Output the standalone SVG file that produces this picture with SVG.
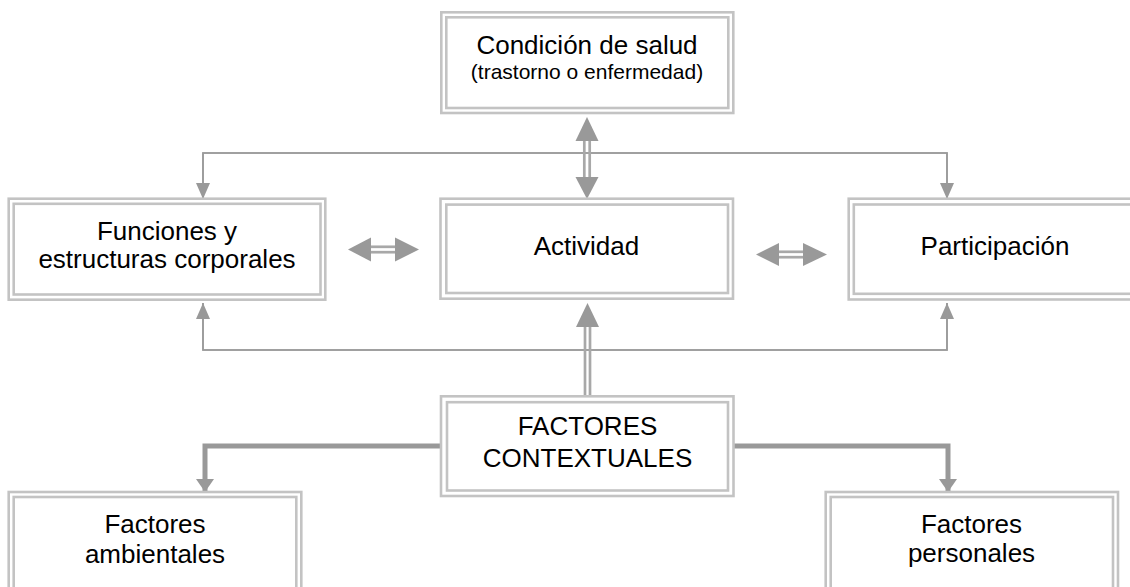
<svg xmlns="http://www.w3.org/2000/svg" width="1130" height="587" viewBox="0 0 1130 587">
<style>
.bo{fill:#fff;stroke:#c3c3c3;stroke-width:2.6}
.bi{fill:none;stroke:#c3c3c3;stroke-width:2.6}
.t{font-family:"Liberation Sans",Arial,sans-serif;font-size:26px;fill:#000;text-anchor:middle}
.s{font-size:21px}
.thin{fill:none;stroke:#9a9a9a;stroke-width:1.6}
.thick{fill:none;stroke:#999;stroke-width:5}
.hd{fill:#999}
.sh{stroke:#a8a8a8;stroke-width:2.7}
</style>
<defs>
<marker id="ah" viewBox="0 0 16 14" refX="16" refY="7" markerWidth="16" markerHeight="14" markerUnits="userSpaceOnUse" orient="auto"><path d="M0,0 L16,7 L0,14 z" fill="#999"/></marker>
<marker id="ahb" viewBox="0 0 13 18" refX="13" refY="9" markerWidth="13" markerHeight="18" markerUnits="userSpaceOnUse" orient="auto"><path d="M0,0 L13,9 L0,18 z" fill="#999"/></marker>
</defs>
<rect width="1130" height="587" fill="#fff"/>
<g id="connectors">
<path class="thin" d="M203,199 V153 H947 V199" marker-end="url(#ah)"/>
<path class="thin" d="M947,199 V153 H203 V199" marker-end="url(#ah)"/>
<path class="thin" d="M203,303 V350 H947 V303" marker-end="url(#ah)"/>
<path class="thin" d="M947,303 V350 H203 V303" marker-end="url(#ah)"/>
<path class="thick" d="M441,446 H205 V492" marker-end="url(#ahb)"/>
<path class="thick" d="M733,446 H948 V492" marker-end="url(#ahb)"/>
<g id="arrow-salud-actividad">
<line class="sh" x1="584.3" y1="140" x2="584.3" y2="178"/>
<line class="sh" x1="589.7" y1="140" x2="589.7" y2="178"/>
<polygon class="hd" points="587,117 598.5,141 575.5,141"/>
<polygon class="hd" points="587,199 598.5,177 575.5,177"/>
</g>
<g id="arrow-contextual-actividad">
<line class="sh" x1="585" y1="326" x2="585" y2="397"/>
<line class="sh" x1="590" y1="326" x2="590" y2="397"/>
<polygon class="hd" points="587.5,303 599,327 576,327"/>
</g>
<g id="arrow-funciones-actividad">
<line class="sh" x1="370" y1="246.8" x2="396" y2="246.8"/>
<line class="sh" x1="370" y1="252.2" x2="396" y2="252.2"/>
<polygon class="hd" points="348,249.5 371,237.5 371,261.5"/>
<polygon class="hd" points="419,249.5 395,237.5 395,261.5"/>
</g>
<g id="arrow-actividad-participacion">
<line class="sh" x1="778" y1="251.8" x2="805" y2="251.8"/>
<line class="sh" x1="778" y1="257.2" x2="805" y2="257.2"/>
<polygon class="hd" points="756,254.5 779,243 779,266"/>
<polygon class="hd" points="827,254.5 803,243 803,266"/>
</g>
</g>
<g id="salud">
<rect class="bo" x="441.3" y="12.3" width="292" height="100.7"/>
<rect class="bi" x="446.3" y="17.3" width="282" height="90.7"/>
<text class="t" x="587" y="54">Condición de salud</text>
<text class="t s" x="587" y="79">(trastorno o enfermedad)</text>
</g>
<g id="funciones">
<rect class="bo" x="8.7" y="198.7" width="316.6" height="101"/>
<rect class="bi" x="13.7" y="203.8" width="306.8" height="90.7"/>
<text class="t" x="167" y="240">Funciones y</text>
<text class="t" x="167" y="268">estructuras corporales</text>
</g>
<g id="actividad">
<rect class="bo" x="440.5" y="198.7" width="292.5" height="100"/>
<rect class="bi" x="446.3" y="204.6" width="281.7" height="88.4"/>
<text class="t" x="586.5" y="255">Actividad</text>
</g>
<g id="participacion">
<rect class="bo" x="848.7" y="198.7" width="300" height="100.8"/>
<rect class="bi" x="853.8" y="204.5" width="290" height="89.3"/>
<text class="t" x="995" y="255">Participación</text>
</g>
<g id="contextuales">
<rect class="bo" x="441" y="396.3" width="292.5" height="99.7"/>
<rect class="bi" x="447" y="402.2" width="281" height="88.3"/>
<text class="t" x="587.5" y="435">FACTORES</text>
<text class="t" x="587.5" y="467">CONTEXTUALES</text>
</g>
<g id="ambientales">
<rect class="bo" x="8.7" y="492" width="292.6" height="110"/>
<rect class="bi" x="13.7" y="497" width="282.6" height="100"/>
<text class="t" x="155" y="533">Factores</text>
<text class="t" x="155" y="563">ambientales</text>
</g>
<g id="personales">
<rect class="bo" x="825.7" y="492" width="292.3" height="110"/>
<rect class="bi" x="830.7" y="497" width="282.3" height="100"/>
<text class="t" x="971.5" y="533">Factores</text>
<text class="t" x="971.5" y="562">personales</text>
</g>
</svg>
